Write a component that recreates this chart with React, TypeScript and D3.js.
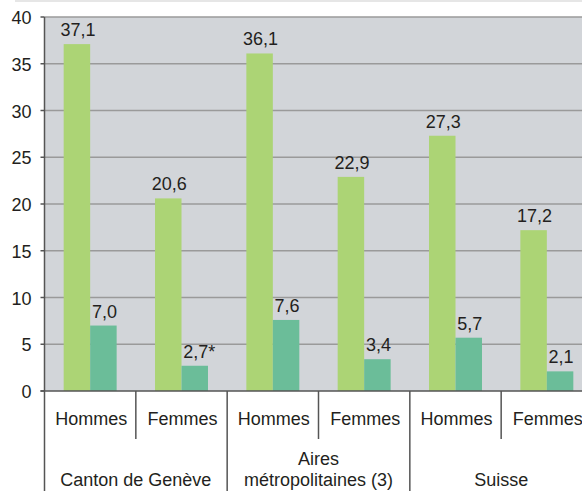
import React, { useEffect, useRef } from "react";
import * as d3 from "d3";

const groups = ["Canton de Genève", "Aires métropolitaines (3)", "Suisse"];
const groupLines = [["Canton de Genève"], ["Aires", "métropolitaines (3)"], ["Suisse"]];
const sexes = ["Hommes", "Femmes"];
const categories = ["G-H", "G-F", "A-H", "A-F", "S-H", "S-F"];
const categoryLabels = ["Hommes", "Femmes", "Hommes", "Femmes", "Hommes", "Femmes"];
const series1 = [37.1, 20.6, 36.1, 22.9, 27.3, 17.2];
const series2 = [7.0, 2.7, 7.6, 3.4, 5.7, 2.1];
const series2Notes = ["", "*", "", "", "", ""];
const yTicks = [0, 5, 10, 15, 20, 25, 30, 35, 40];

const W = 582;
const H = 491;

export default function App() {
  const ref = useRef<SVGSVGElement | null>(null);

  useEffect(() => {
    const svg = d3.select(ref.current);
    svg.selectAll("*").remove();
    const left = 44.5;
    const right = 592.5;
    const top = 17;
    const bottom = 391;
    const font = "'Liberation Sans', Arial, Helvetica, sans-serif";
    const fs = 18;
    const textColor = "#231f20";

    const x = d3.scaleBand<string>().domain(categories).range([left, right]).paddingInner(0.42).paddingOuter(0.21);
    const y = d3.scaleLinear().domain([0, 40]).range([bottom, top]);
    const bw = x.bandwidth() / 2;

    // top band
    svg.append("rect").attr("x", 15).attr("y", 0).attr("width", W - 15).attr("height", 2).attr("fill", "#e6e6e6");

    // plot bg
    svg.append("rect").attr("x", left).attr("y", top).attr("width", right - left).attr("height", bottom - top).attr("fill", "#d2d5d9");

    // gridlines
    svg.append("g").selectAll("line").data(yTicks.filter((t) => t > 0)).join("line")
      .attr("x1", left).attr("x2", right)
      .attr("y1", (d) => y(d)).attr("y2", (d) => y(d))
      .attr("stroke", "#9a9a9a").attr("stroke-width", 1.5);

    // bars
    svg.append("g").selectAll("rect").data(series1).join("rect")
      .attr("x", (_d, i) => x(categories[i])!)
      .attr("y", (d) => y(d))
      .attr("width", bw)
      .attr("height", (d) => y(0) - y(d))
      .attr("fill", "#acd475");
    svg.append("g").selectAll("rect").data(series2).join("rect")
      .attr("x", (_d, i) => x(categories[i])! + bw)
      .attr("y", (d) => y(d))
      .attr("width", bw)
      .attr("height", (d) => y(0) - y(d))
      .attr("fill", "#6bbd99");

    const fmt = (v: number) => v.toFixed(1).replace(".", ",");

    // value labels
    const lab = svg.append("g").attr("font-family", font).attr("font-size", fs).attr("fill", textColor);
    series1.forEach((v, i) => {
      lab.append("text").attr("x", x(categories[i])! + bw / 2 + 1).attr("y", y(v) - 8)
        .attr("text-anchor", "middle").text(fmt(v));
    });
    series2.forEach((v, i) => {
      const cx = x(categories[i])! + bw + bw / 2 + 1;
      const t = lab.append("text").attr("x", cx).attr("y", y(v) - 8)
        .attr("text-anchor", "middle").text(fmt(v));
      if (series2Notes[i]) {
        const w = (t.node() as SVGTextElement).getComputedTextLength();
        lab.append("text").attr("x", cx + w / 2).attr("y", y(v) - 8)
          .attr("text-anchor", "start").text(series2Notes[i]);
      }
    });

    // y axis
    const ya = svg.append("g");
    ya.append("line").attr("x1", left).attr("x2", left).attr("y1", top).attr("y2", H)
      .attr("stroke", "#555").attr("stroke-width", 1.5);
    ya.selectAll("line.tick").data(yTicks).join("line").attr("class", "tick")
      .attr("x1", left - 4).attr("x2", left)
      .attr("y1", (d) => y(d)).attr("y2", (d) => y(d))
      .attr("stroke", "#555").attr("stroke-width", 1.5);
    ya.selectAll("text").data(yTicks).join("text")
      .attr("x", 31.5).attr("y", (d) => y(d)).attr("dy", "0.4em")
      .attr("text-anchor", "end").attr("font-family", font).attr("font-size", fs).attr("fill", textColor)
      .text((d) => String(d));

    // x axis line
    svg.append("line").attr("x1", left - 4).attr("x2", right).attr("y1", bottom).attr("y2", bottom)
      .attr("stroke", "#555").attr("stroke-width", 1.5);

    // dividers
    const step = x.step();
    const boundaries = d3.range(1, categories.length + 1).map((i) => left + i * step);
    svg.append("g").selectAll("line").data(boundaries).join("line")
      .attr("x1", (d) => d).attr("x2", (d) => d)
      .attr("y1", bottom)
      .attr("y2", (_d, i) => ((i + 1) % sexes.length === 0 ? H : 439))
      .attr("stroke", "#555").attr("stroke-width", 1.5);

    // category labels
    svg.append("g").selectAll("text").data(categoryLabels).join("text")
      .attr("x", (_d, i) => x(categories[i])! + x.bandwidth() / 2 + 1)
      .attr("y", 425)
      .attr("text-anchor", "middle").attr("font-family", font).attr("font-size", fs).attr("fill", textColor)
      .text((d) => d);

    // group labels
    groups.forEach((_g, gi) => {
      const cx = left + step * (gi * 2 + 1);
      const lines = groupLines[gi];
      lines.forEach((ln, li) => {
        svg.append("text").attr("x", cx).attr("y", 486 - (lines.length - 1 - li) * 21)
          .attr("text-anchor", "middle").attr("font-family", font).attr("font-size", fs).attr("fill", textColor)
          .text(ln);
      });
    });
  }, []);

  return (
    <svg ref={ref} width={W} height={H} style={{ position: "absolute", left: 0, top: 0, background: "#fff" }} />
  );
}
